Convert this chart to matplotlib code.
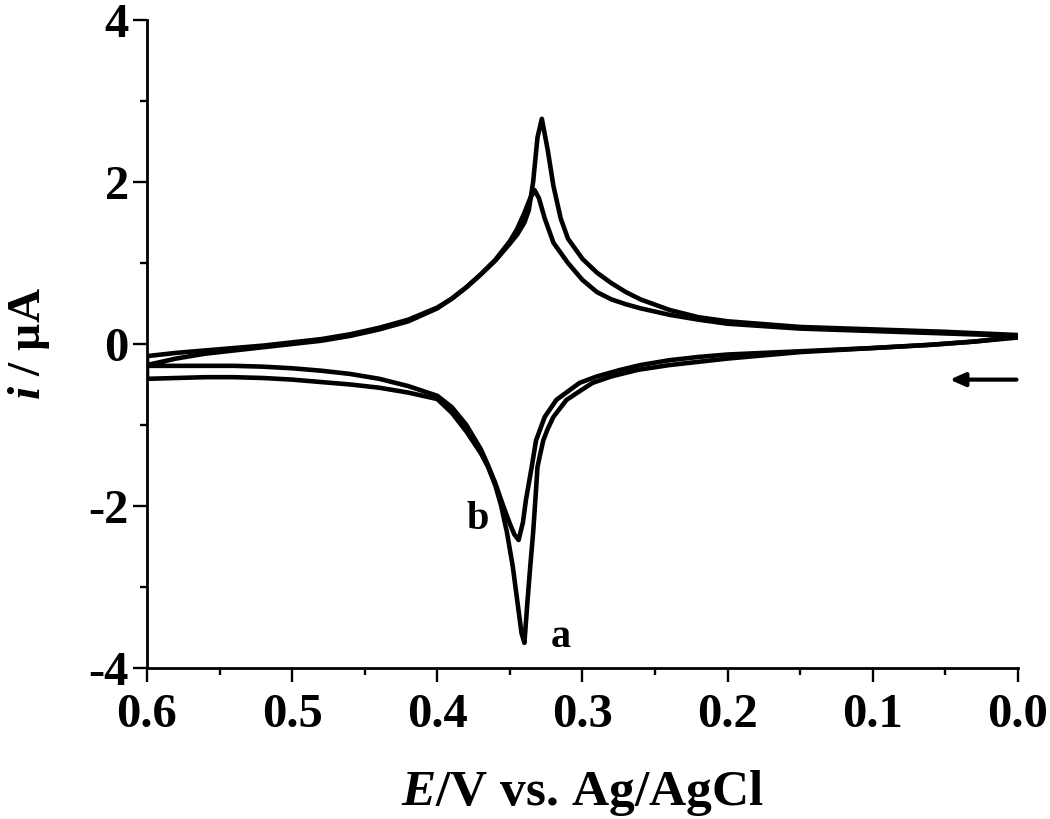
import matplotlib
matplotlib.use("Agg")
import matplotlib.pyplot as plt
from matplotlib.ticker import MultipleLocator

plt.rcParams['font.family'] = 'Liberation Serif'
plt.rcParams['font.weight'] = 'bold'
plt.rcParams['axes.unicode_minus'] = False
plt.rcParams['mathtext.fontset'] = 'custom'
plt.rcParams['mathtext.it'] = 'Liberation Serif:italic:bold'
plt.rcParams['mathtext.rm'] = 'Liberation Serif:bold'

# curve a, forward (anodic) branch, 0.0 -> 0.6 V
Ea_fwd = [0.00, 0.05, 0.10, 0.15, 0.20, 0.22, 0.24, 0.26, 0.27, 0.28, 0.29, 0.30,
          0.31, 0.315, 0.32, 0.324, 0.328, 0.331, 0.334, 0.337, 0.34, 0.345, 0.35,
          0.36, 0.37, 0.38, 0.39, 0.40, 0.42, 0.44, 0.46, 0.48, 0.50, 0.52, 0.54,
          0.56, 0.58, 0.60]
ia_fwd = [0.11, 0.15, 0.18, 0.21, 0.28, 0.33, 0.42, 0.55, 0.64, 0.75, 0.88, 1.05,
          1.30, 1.55, 1.95, 2.40, 2.78, 2.55, 2.00, 1.65, 1.50, 1.35, 1.24,
          1.03, 0.86, 0.70, 0.56, 0.45, 0.30, 0.20, 0.12, 0.06, 0.02, -0.02, -0.05,
          -0.08, -0.11, -0.15]

# curve a, reverse (cathodic) branch, 0.6 -> 0.0 V
Ea_rev = [0.60, 0.58, 0.56, 0.54, 0.52, 0.50, 0.48, 0.46, 0.44, 0.42, 0.40, 0.39,
          0.38, 0.37, 0.365, 0.36, 0.356, 0.352, 0.348, 0.345, 0.342, 0.340, 0.338,
          0.336, 0.334, 0.332, 0.331, 0.329, 0.327, 0.324, 0.320, 0.311, 0.30, 0.293,
          0.28, 0.262, 0.24, 0.22, 0.20, 0.15, 0.10, 0.06, 0.03, 0.00]
ia_rev = [-0.43, -0.42, -0.41, -0.41, -0.42, -0.44, -0.47, -0.50, -0.54, -0.60, -0.68, -0.85,
          -1.08, -1.35, -1.52, -1.75, -2.00, -2.33, -2.75, -3.16, -3.57, -3.69, -3.20,
          -2.75, -2.33, -1.80, -1.52, -1.35, -1.19, -1.05, -0.90, -0.69, -0.56, -0.48,
          -0.40, -0.32, -0.26, -0.22, -0.18, -0.10, -0.05, -0.01, 0.03, 0.08]

# curve b, forward branch
Eb_fwd = [0.00, 0.05, 0.10, 0.15, 0.20, 0.22, 0.24, 0.26, 0.27, 0.28, 0.29, 0.30,
          0.31, 0.32, 0.326, 0.330, 0.333, 0.336, 0.34, 0.345, 0.35, 0.36, 0.37,
          0.38, 0.39, 0.40, 0.42, 0.44, 0.46, 0.48, 0.50, 0.52, 0.54, 0.56, 0.58, 0.60]
ib_fwd = [0.10, 0.13, 0.16, 0.19, 0.25, 0.30, 0.36, 0.44, 0.49, 0.55, 0.64, 0.79,
          1.00, 1.25, 1.55, 1.80, 1.90, 1.80, 1.62, 1.42, 1.27, 1.04, 0.86,
          0.70, 0.56, 0.44, 0.28, 0.18, 0.10, 0.04, 0.00, -0.04, -0.08, -0.12, -0.18, -0.26]

# curve b, reverse branch
Eb_rev = [0.60, 0.58, 0.56, 0.54, 0.52, 0.50, 0.48, 0.46, 0.44, 0.42, 0.40, 0.39,
          0.38, 0.37, 0.365, 0.36, 0.355, 0.35, 0.347, 0.344, 0.341, 0.339, 0.335,
          0.332, 0.326, 0.318, 0.302, 0.29, 0.274, 0.26, 0.24, 0.22, 0.20, 0.15,
          0.10, 0.06, 0.03, 0.00]
ib_rev = [-0.27, -0.27, -0.27, -0.27, -0.28, -0.30, -0.33, -0.37, -0.43, -0.52, -0.64, -0.78,
          -1.00, -1.30, -1.50, -1.72, -1.98, -2.22, -2.35, -2.42, -2.20, -1.93, -1.52,
          -1.19, -0.90, -0.69, -0.48, -0.40, -0.32, -0.26, -0.20, -0.16, -0.13, -0.09,
          -0.05, -0.01, 0.03, 0.09]

xticks = [0.6, 0.5, 0.4, 0.3, 0.2, 0.1, 0.0]
yticks = [-4, -2, 0, 2, 4]

fig = plt.figure(figsize=(10.5, 8.19), dpi=100)
ax = fig.add_axes([0.140, 0.1844, 0.8295, 0.7912])

for E, i in [(Ea_fwd + Ea_rev, ia_fwd + ia_rev), (Eb_fwd + Eb_rev, ib_fwd + ib_rev)]:
    ax.plot(E, i, color='black', lw=3.3, solid_joinstyle='round')

ax.set_xlim(0.6, 0.0)
ax.set_ylim(-4, 4)
ax.set_xticks(xticks)
ax.set_xticklabels(['%.1f' % v for v in xticks])
ax.set_yticks(yticks)
ax.xaxis.set_minor_locator(MultipleLocator(0.05))
ax.yaxis.set_minor_locator(MultipleLocator(1))

for s in ['top', 'right']:
    ax.spines[s].set_visible(False)
for s in ['left', 'bottom']:
    ax.spines[s].set_linewidth(2)

ax.tick_params(which='major', direction='out', length=10, width=1.7, labelsize=35)
ax.tick_params(axis='x', which='major', pad=8)
ax.tick_params(axis='y', which='major', pad=3)
ax.tick_params(which='minor', direction='out', length=5, width=1.7)

ax.set_xlabel(r'$E$/V vs. Ag/AgCl', fontsize=37, fontweight='bold', labelpad=22)
ax.set_ylabel(r'$i$ / µA', fontsize=34, fontweight='bold', labelpad=26)

ax.text(0.315, -3.62, 'a', fontsize=29, fontweight='bold', ha='center', va='center')
ax.text(0.372, -2.17, 'b', fontsize=29, fontweight='bold', ha='center', va='center')

ax.annotate('', xy=(0.047, -0.44), xytext=(0.001, -0.44),
            arrowprops=dict(arrowstyle='-|>,head_length=0.9,head_width=0.4',
                            color='black', lw=3, shrinkA=0, shrinkB=0))

fig.savefig('out.png', dpi=100)
